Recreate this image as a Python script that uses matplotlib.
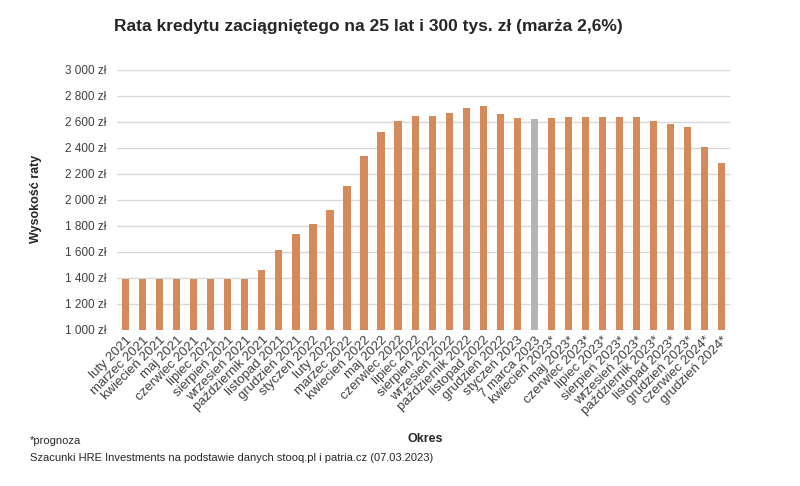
import matplotlib
matplotlib.use("Agg")
import matplotlib.pyplot as plt
from matplotlib.ticker import FuncFormatter

plt.rcParams['font.family'] = ['Liberation Sans', 'DejaVu Sans']

# dane
okresy = [
    'luty 2021', 'marzec 2021', 'kwiecień 2021', 'maj 2021', 'czerwiec 2021',
    'lipiec 2021', 'sierpień 2021', 'wrzesień 2021', 'październik 2021',
    'listopad 2021', 'grudzień 2021', 'styczeń 2022', 'luty 2022', 'marzec 2022',
    'kwiecień 2022', 'maj 2022', 'czerwiec 2022', 'lipiec 2022', 'sierpień 2022',
    'wrzesień 2022', 'październik 2022', 'listopad 2022', 'grudzień 2022',
    'styczeń 2023', '7 marca 2023', 'kwiecień 2023*', 'maj 2023*',
    'czerwiec 2023*', 'lipiec 2023*', 'sierpień 2023*', 'wrzesień 2023*',
    'październik 2023*', 'listopad 2023*', 'grudzień 2023*', 'czerwiec 2024*',
    'grudzień 2024*',
]
raty = [
    1393, 1393, 1393, 1393, 1393, 1393, 1393, 1393, 1465, 1612, 1735, 1818,
    1925, 2105, 2341, 2523, 2610, 2644, 2644, 2669, 2710, 2726, 2662, 2628,
    2626, 2628, 2636, 2636, 2636, 2636, 2636, 2610, 2587, 2562, 2405, 2282,
]
biezacy = '7 marca 2023'

kolory = ['#B3B4B8' if o == biezacy else '#D48A5A' for o in okresy]

fig = plt.figure(figsize=(8, 4.86), dpi=100)
ax = fig.add_axes([0.1465, 0.321, 0.766, 0.535])

x = range(len(okresy))
ax.bar(x, raty, width=0.42, color=kolory, zorder=3)

ax.set_ylim(1000, 3000)
ax.set_yticks(range(1000, 3001, 200))
ax.yaxis.set_major_formatter(FuncFormatter(lambda v, p: f'{int(v):,} zł'.replace(',', ' ')))
ax.set_xlim(-0.5, len(okresy) - 0.5)
ax.set_xticks(list(x))
ax.set_xticklabels(okresy, rotation=45, ha='right', rotation_mode='anchor', fontsize=9.5,
                   color='#404040')
ax.tick_params(axis='y', labelsize=8.5, labelcolor='#404040', length=0, pad=8)
ax.tick_params(axis='x', length=0, pad=3)

ax.grid(axis='y', color='#D9D9D9', linewidth=1, zorder=0)
for s in ax.spines.values():
    s.set_visible(False)

fig.text(0.46, 0.945, 'Rata kredytu zaciągniętego na 25 lat i 300 tys. zł (marża 2,6%)',
         ha='center', va='center', fontsize=12.5, fontweight='bold', color='#262626')
fig.text(0.045, 0.59, 'Wysokość raty', rotation=90, ha='center', va='center',
         fontsize=9, fontweight='bold', color='#262626')
fig.text(0.532, 0.097, 'Okres', ha='center', va='center', fontsize=9, fontweight='bold',
         color='#262626')
fig.text(0.037, 0.093, '*prognoza', ha='left', va='center', fontsize=8, color='#262626')
fig.text(0.037, 0.058, 'Szacunki HRE Investments na podstawie danych stooq.pl i patria.cz (07.03.2023)',
         ha='left', va='center', fontsize=8, color='#262626')

fig.savefig('out.png', dpi=100)
